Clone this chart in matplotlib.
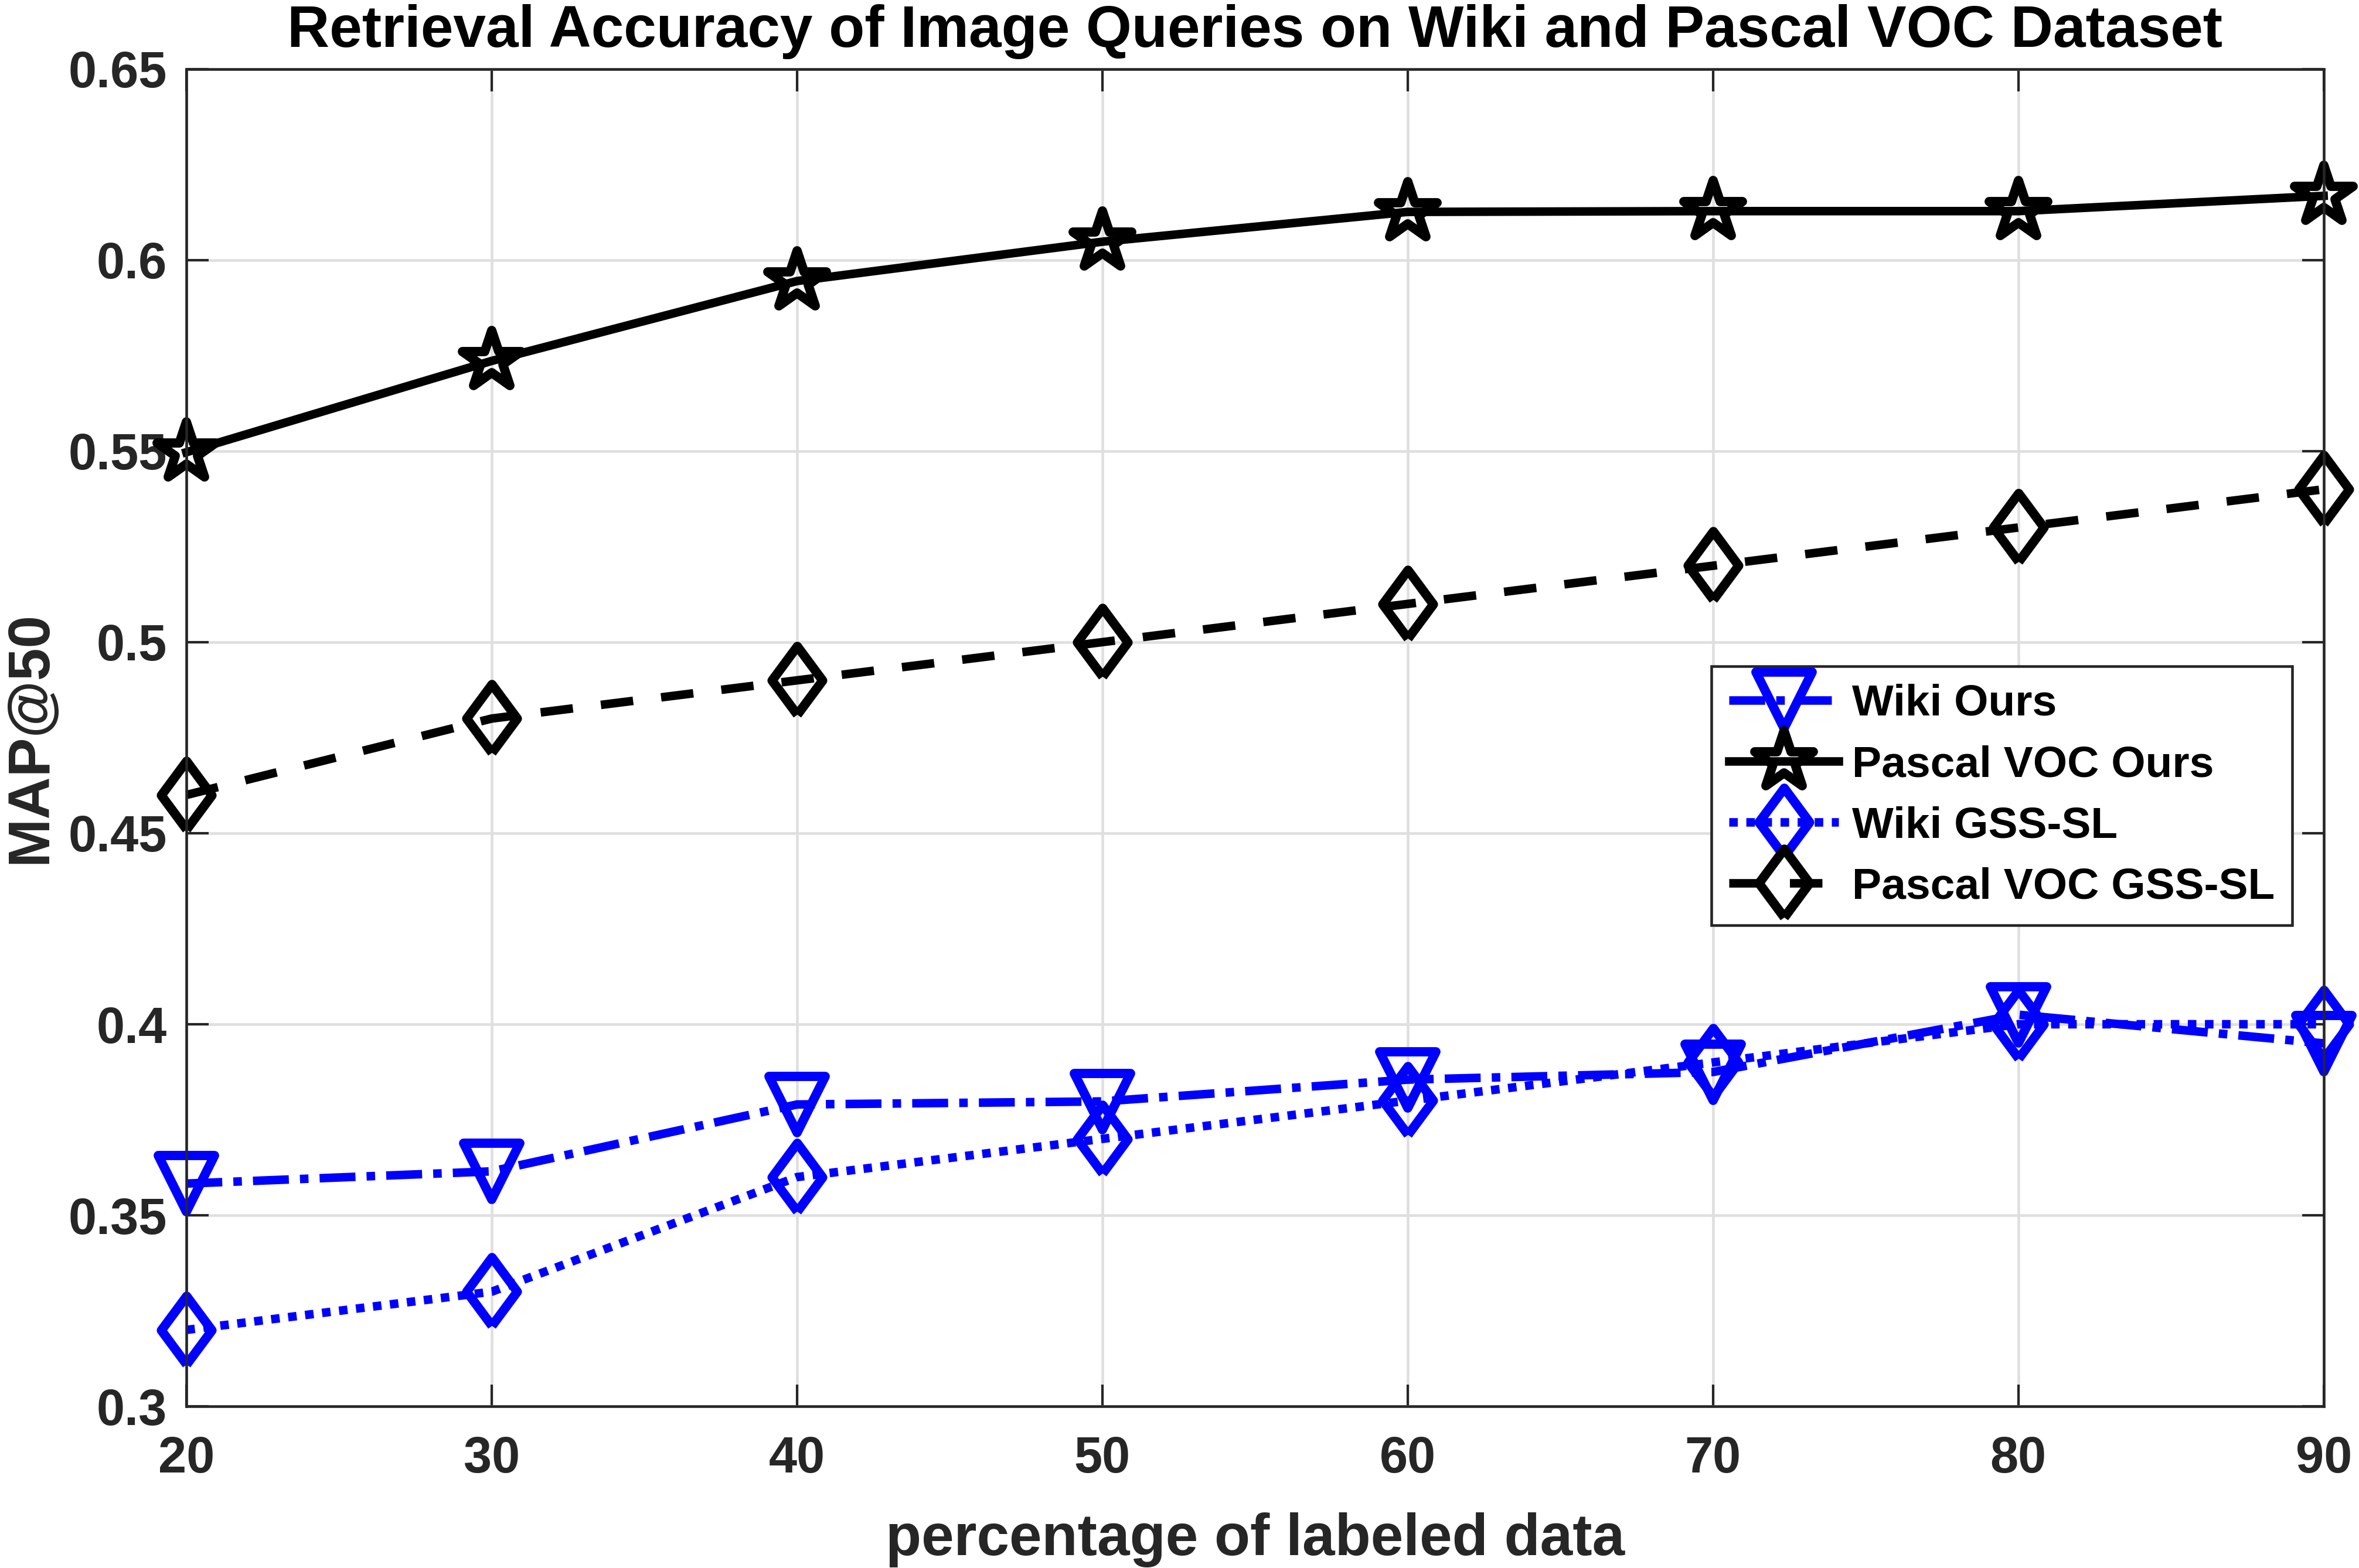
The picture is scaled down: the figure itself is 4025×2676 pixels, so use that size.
import numpy as np
import matplotlib.pyplot as plt
from matplotlib.markers import MarkerStyle

plt.rcParams['font.family'] = ['Liberation Sans', 'DejaVu Sans']
plt.rcParams['font.weight'] = 'bold'

labeled = [20, 30, 40, 50, 60, 70, 80, 90]
wiki_ours = [0.3583, 0.3615, 0.379, 0.3798, 0.3855, 0.3875, 0.4025, 0.395]
voc_ours = [0.5497, 0.5736, 0.5945, 0.6048, 0.6126, 0.6128, 0.6128, 0.6168]
wiki_gss = [0.32, 0.33, 0.36, 0.37, 0.38, 0.39, 0.40, 0.40]
voc_gss = [0.46, 0.48, 0.49, 0.50, 0.51, 0.52, 0.53, 0.54]

# matlab-style diamond (wider than matplotlib's thin diamond), round corners
diamond = MarkerStyle([(0, -1), (0.74, 0), (0, 1), (-0.74, 0), (0, -1)],
                      joinstyle='round')
tri = MarkerStyle('v', joinstyle='round')
star = MarkerStyle('*', joinstyle='round')

fig = plt.figure(figsize=(4025/300, 2676/300), dpi=300)
ax = fig.add_axes([0.079, 0.1031, 0.906, 0.8529])

lw = 3.5
mew = 3.8
ax.plot(labeled, wiki_ours, color='#0000ff', lw=lw, dashes=(4.2, 1.3, 1.0, 1.3),
        marker=tri, ms=23, mfc='none', mew=mew, clip_on=False, label='Wiki Ours')
ax.plot(labeled, voc_ours, '-', color='black', lw=lw, marker=star, ms=25,
        mfc='none', mew=mew, clip_on=False, label='Pascal VOC Ours')
ax.plot(labeled, wiki_gss, color='#0000ff', lw=lw, dashes=(1.0, 1.0),
        marker=diamond, ms=28, mfc='none', mew=mew, clip_on=False, label='Wiki GSS-SL')
ax.plot(labeled, voc_gss, color='black', lw=lw, dashes=(3.8, 3.3),
        marker=diamond, ms=28, mfc='none', mew=mew, clip_on=False,
        label='Pascal VOC GSS-SL')

ax.set_xlim(20, 90)
ax.set_ylim(0.3, 0.65)
ax.set_xticks(labeled)
ax.set_yticks([0.3, 0.35, 0.4, 0.45, 0.5, 0.55, 0.6, 0.65])
ax.set_yticklabels(['0.3', '0.35', '0.4', '0.45', '0.5', '0.55', '0.6', '0.65'])
ax.grid(True, color='#dfdfdf', lw=1.1)
ax.set_axisbelow(True)
ax.tick_params(direction='in', length=9, width=1.0, colors='#262626',
               labelsize=20.8, top=True, right=True)
ax.tick_params(axis='x', pad=12)
ax.tick_params(axis='y', pad=8)
for s in ax.spines.values():
    s.set_color('#262626')
    s.set_linewidth(1.1)
for lab in ax.get_xticklabels() + ax.get_yticklabels():
    lab.set_fontweight('bold')

ax.set_xlabel('percentage of labeled data', fontsize=24, fontweight='bold',
              color='#262626', labelpad=12)
ax.set_ylabel('MAP@50', fontsize=24, fontweight='bold', color='#262626',
              labelpad=4)
ax.set_title('Retrieval Accuracy of Image Queries on Wiki and Pascal VOC Dataset',
             fontsize=24, fontweight='bold', pad=9)

leg = ax.legend(loc='upper left', bbox_to_anchor=(0.7135, 0.5535), borderaxespad=0,
                fontsize=18, frameon=True, fancybox=False, edgecolor='#262626',
                framealpha=1, handlelength=2.5, handletextpad=0.3, borderpad=0.4,
                labelspacing=0.47)
leg.get_frame().set_linewidth(1.1)

fig.savefig('out.png', dpi=300)
